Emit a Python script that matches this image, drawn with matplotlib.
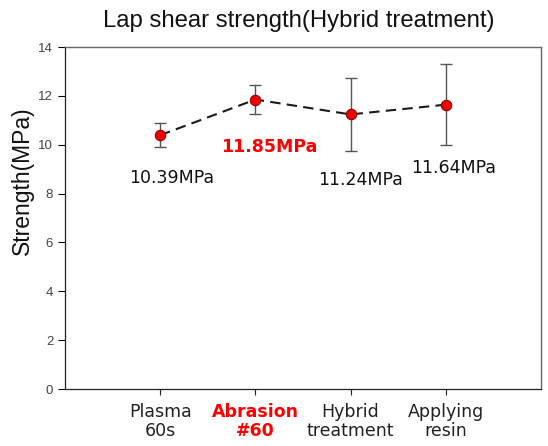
import matplotlib
matplotlib.use("Agg")
import matplotlib.pyplot as plt

categories = ["Plasma\n60s", "Abrasion\n#60", "Hybrid\ntreatment", "Applying\nresin"]
x_pos = [1, 2, 3, 4]
means = [10.39, 11.85, 11.24, 11.64]
errors = [0.5, 0.6, 1.48, 1.65]
value_labels = ["10.39MPa", "11.85MPa", "11.24MPa", "11.64MPa"]
label_y = [8.65, 9.9, 8.55, 9.05]
label_x = [1.12, 2.15, 3.1, 4.08]
highlight = 1

fig = plt.figure(figsize=(5.48, 4.46), dpi=100)
ax = fig.add_axes([65/548, 57/446, 476/548, 342/446])

ax.errorbar(x_pos, means, yerr=errors, fmt='none', ecolor='#555555',
            elinewidth=1.0, capsize=4, capthick=1.0, zorder=2)
ax.plot(x_pos, means, linestyle=(0, (5, 3)), color='#1a1a1a', linewidth=1.5,
        marker='o', markersize=7.5, markerfacecolor='#ee0000',
        markeredgecolor='#990000', markeredgewidth=0.8, zorder=3)

for i, (lx, ly, t) in enumerate(zip(label_x, label_y, value_labels)):
    if i == highlight:
        ax.text(lx, ly, t, ha='center', va='center', fontsize=12.5,
                color='#ff0000', fontweight='bold', family='DejaVu Sans')
    else:
        ax.text(lx, ly, t, ha='center', va='center', fontsize=12.5,
                color='#111111', family='DejaVu Sans')

ax.set_xlim(0, 5)
ax.set_ylim(0, 14)
ax.set_yticks(range(0, 15, 2))
ax.tick_params(axis='y', labelsize=9.5, labelcolor='#444444', length=5, width=0.8,
               direction='out')
for lab in ax.get_yticklabels():
    lab.set_family('Liberation Sans')
ax.set_xticks(x_pos)
ax.set_xticklabels(categories, fontsize=12.5, family='DejaVu Sans',
                   linespacing=1.1)
ax.tick_params(axis='x', length=4, width=0.8, direction='out', pad=6,
               colors='#222222')
xl = ax.get_xticklabels()
xl[highlight].set_color('#ff0000')
xl[highlight].set_fontweight('bold')

for s in ['left', 'bottom']:
    ax.spines[s].set_color('#222222')
    ax.spines[s].set_linewidth(0.9)
for s in ['top', 'right']:
    ax.spines[s].set_color('#666666')
    ax.spines[s].set_linewidth(1.0)

ax.set_ylabel("Strength(MPa)", fontsize=16.5, family='Liberation Sans',
              color='#111111')
ax.yaxis.set_label_coords(-31/476, 0.61)
fig.text(0.546, 0.953, "Lap shear strength(Hybrid treatment)", ha='center',
         va='center', fontsize=17.2, family='Liberation Sans', color='#111111')

fig.savefig("out.png", dpi=100)
